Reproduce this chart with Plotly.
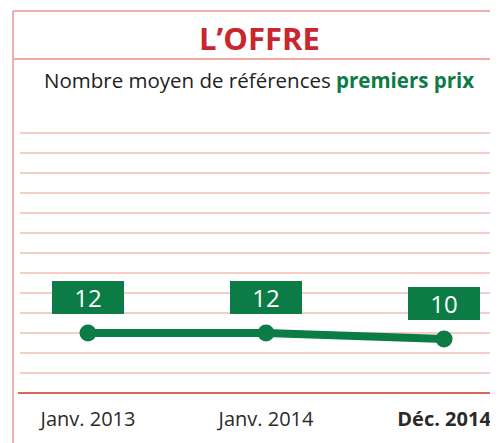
import plotly.graph_objects as go

# data
periods = ["Janv. 2013", "Janv. 2014", "Déc. 2014"]
tick_labels = ["Janv. 2013", "Janv. 2014", "<b>Déc. 2014</b>"]
nb_references = [12, 12, 10]

# the page body adds an 8px margin, so work in screen pixels minus that offset
OFF = 8
W, H = 498 - OFF, 443 - OFF
# plot area, screen pixels
PL, PR, PT, PB = 20, 498, 113, 393

GREEN = "#0b7c45"
RED = "#c9262d"
PINK = "#eeb0ac"
GRID = "#f5cfc6"


def px_x(px):
    return (px - PL) / (PR - PL)


def px_y(py):
    return (PB - py) / (PB - PT)


fig = go.Figure()

fig.add_trace(go.Scatter(
    x=periods, y=nb_references,
    mode="lines+markers",
    line=dict(color=GREEN, width=8),
    marker=dict(color=GREEN, size=17),
    hoverinfo="skip",
    showlegend=False))

# value boxes
for p, v in zip(periods, nb_references):
    fig.add_annotation(
        x=p, y=v, xref="x", yref="y",
        text=str(v), showarrow=False, yshift=36,
        font=dict(family="Open Sans", size=24, color="white"),
        bgcolor=GREEN, bordercolor=GREEN, borderwidth=0,
        width=72, height=33, borderpad=0)

# title and subtitle
fig.add_annotation(
    x=0.5, y=px_y(38), xref="paper", yref="paper",
    text="<b>L’OFFRE</b>", showarrow=False, yanchor="middle",
    font=dict(family="Open Sans", size=31, color=RED))
fig.add_annotation(
    x=0.5, y=px_y(80), xref="paper", yref="paper",
    text="Nombre moyen de références <b><span style='color:#0f7a46'>premiers prix</span></b>",
    showarrow=False, yanchor="middle",
    font=dict(family="Open Sans", size=20.5, color="#222222"))

# frame lines
frame = dict(type="line", xref="paper", yref="paper", layer="below")
fig.add_shape(**frame, x0=px_x(13), x1=px_x(13), y0=px_y(11), y1=px_y(443),
              line=dict(color=PINK, width=2))
fig.add_shape(**frame, x0=px_x(13), x1=px_x(498), y0=px_y(11), y1=px_y(11),
              line=dict(color=PINK, width=2))
fig.add_shape(**frame, x0=px_x(13), x1=px_x(498), y0=px_y(59), y1=px_y(59),
              line=dict(color="#eda8a2", width=2))
fig.add_shape(**frame, x0=px_x(18), x1=px_x(498), y0=0, y1=0,
              line=dict(color="#d9685c", width=2))

fig.update_layout(
    width=W, height=H,
    margin=dict(l=PL - OFF, r=498 - PR, t=PT - OFF, b=443 - PB),
    paper_bgcolor="white", plot_bgcolor="white",
    xaxis=dict(
        type="category",
        range=[-0.382, 2.303],
        tickvals=periods, ticktext=tick_labels,
        tickfont=dict(family="Open Sans", size=20, color="#2a2a2a"),
        showgrid=False, zeroline=False, showline=False,
        ticks="", ticklabelstandoff=12, fixedrange=True),
    yaxis=dict(
        range=[-8, 85.5],
        tick0=-8, dtick=20 / 3,
        showgrid=True, gridcolor=GRID, gridwidth=2,
        zeroline=False, showticklabels=False, showline=False,
        fixedrange=True),
)

fig.write_html("out.html")
